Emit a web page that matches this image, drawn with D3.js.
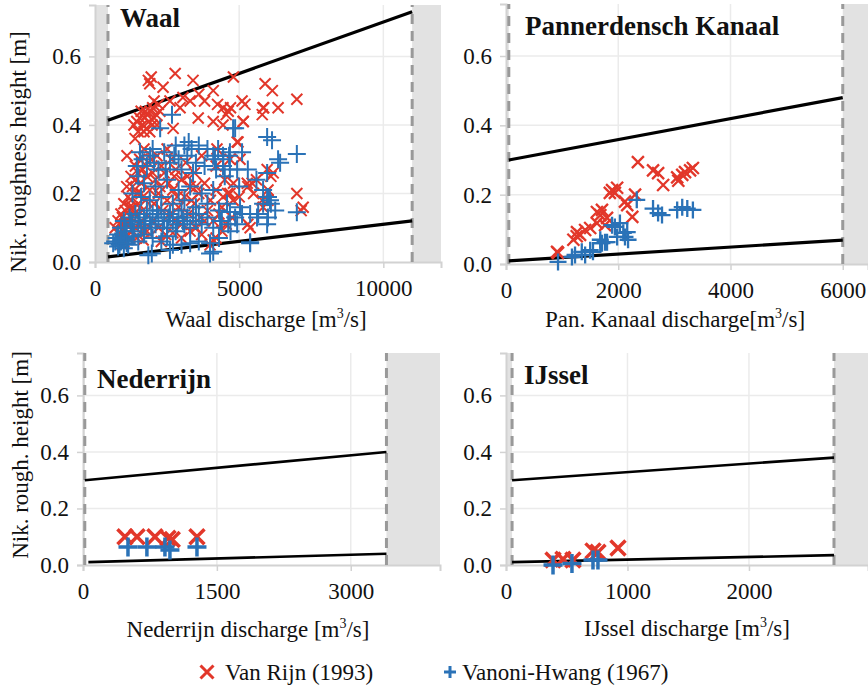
<!DOCTYPE html>
<html>
<head>
<meta charset="utf-8">
<script src="https://cdn.jsdelivr.net/npm/d3@7"></script>
<style>
  body { margin: 0; background: #fff; }
  svg text { font-family: "Liberation Serif", "Times New Roman", serif; fill: #111; }
</style>
</head>
<body>
<script>
// ---- data ----
// Waal: [discharge m3/s, roughness height m]
var waalVanRijn = [
  [1850,0.53],[1950,0.54],[1900,0.52],[2780,0.55],[3400,0.53],[2360,0.51],[4100,0.50],[4800,0.54],
  [5900,0.52],[6150,0.50],[7000,0.475],[6350,0.45],[5850,0.45],[5200,0.46],[4700,0.45],[4550,0.43],
  [4250,0.46],[3600,0.49],[3300,0.47],[3050,0.48],[2950,0.45],[2600,0.47],[3800,0.47],[2200,0.46],[2050,0.47],
  [4440,0.45],[4620,0.44],[5100,0.47],[5830,0.45],[5800,0.43],[5140,0.41],[4440,0.40],[4100,0.41],
  [1650,0.40],[1720,0.42],[1780,0.39],[1800,0.43],[1870,0.41],[1920,0.44],[1980,0.40],[2050,0.42],
  [2120,0.43],[1750,0.44],[1900,0.38],[2000,0.45],[1350,0.40],[1450,0.41],[1550,0.42],[1600,0.44],
  [1700,0.38],[2150,0.40],[2250,0.44],[1500,0.38],
  [3580,0.42],[5140,0.41],[2710,0.39],[1390,0.36],[1110,0.31],[4930,0.35],[5030,0.30],[5970,0.27],
  [6180,0.26],[6100,0.25],[7000,0.20],[7220,0.16],[7150,0.15],[5450,0.23],[5300,0.11],[4100,0.064],
  [4960,0.35],[4680,0.30],[4230,0.33],[5280,0.23],[4680,0.20],[4790,0.18],[4440,0.19],[5830,0.16],[6000,0.18],
  [1100,0.22],[1250,0.25],[1400,0.28],[1550,0.30],[1700,0.33],[1850,0.29],[2000,0.26],[2150,0.31],
  [2300,0.28],[2500,0.33],[2650,0.30],[2800,0.27],[3000,0.24],[3150,0.29],[3300,0.22],[3450,0.26],
  [3600,0.20],[3800,0.23],[4000,0.18],[4200,0.21],[4400,0.16],[4600,0.20],[4800,0.23],[5000,0.19],
  [5300,0.22],[5500,0.20],[5800,0.18],[6000,0.21],
  [1400,0.24],[1500,0.26],[1650,0.27],[1800,0.25],[1950,0.30],[2100,0.24],[2250,0.22],[2400,0.26],
  [2550,0.23],[2750,0.25],[2850,0.19],[3200,0.25],[3350,0.18],[3500,0.22],[1300,0.22],[1600,0.20],
  [5600,0.24],[4200,0.28],[4500,0.24],[3700,0.31],
  [900,0.14],[1000,0.17],[1150,0.19],[1300,0.16],[1450,0.20],[1600,0.23],[1750,0.18],[1900,0.21],
  [2050,0.17],[2200,0.20],[2350,0.15],[2500,0.18],[2700,0.21],[2900,0.16],[3100,0.19],[3250,0.14],
  [3450,0.17],[3650,0.13],[3900,0.15],[4100,0.12],[4300,0.14],[4550,0.11],[4750,0.13],
  [850,0.08],[900,0.11],[950,0.13],[1000,0.06],[1050,0.15],[1100,0.08],[1150,0.12],[1200,0.16],
  [1300,0.09],[1350,0.14],[1450,0.07],[1500,0.17],[1550,0.11],[1650,0.15],[1700,0.09],[1250,0.18],
  [1050,0.12],[950,0.05],[2600,0.14],[2800,0.12],[3000,0.11],[3500,0.10],[3800,0.12],[4400,0.09],
  [700,0.10],[800,0.12],[950,0.09],[1100,0.11],[1250,0.13],[1400,0.10],[1600,0.12],[1800,0.09],
  [2000,0.12],[2200,0.10],[2450,0.08],[2700,0.085],[3000,0.07],[3300,0.09],[3700,0.08],[3990,0.05],
  [4200,0.07],[5380,0.10],[1670,0.064],[1200,0.07],[2300,0.06]
];
var waalVanoni = [
  [2670,0.43],[2260,0.39],[4860,0.39],[4790,0.39],[5970,0.365],[6140,0.355],[3100,0.34],[3350,0.33],[3600,0.34],
  [3900,0.33],[7000,0.315],[4160,0.30],[4450,0.30],[4650,0.31],[1560,0.32],[1910,0.31],[6420,0.29],
  [6350,0.30],[4270,0.33],[4440,0.31],[4680,0.32],[5100,0.32],[4100,0.31],[4440,0.28],[4680,0.27],[4930,0.27],
  [5970,0.26],[6000,0.19],[6100,0.17],[6250,0.15],[7000,0.145],[5660,0.14],[6000,0.13],[4580,0.17],
  [5830,0.21],[5970,0.19],[6070,0.18],[5830,0.17],[5380,0.14],[5620,0.13],[4340,0.12],[4620,0.11],
  [4930,0.11],[5970,0.11],[4680,0.146],[5030,0.16],[5380,0.058],[3990,0.055],[4100,0.03],
  [4860,0.13],[5380,0.055],[3990,0.025],[1970,0.025],[630,0.055],[970,0.064],[2700,0.05],[3000,0.05],
  [2000,0.33],[2400,0.32],[2800,0.34],[3200,0.31],[2900,0.30],[3500,0.29],[1800,0.28],[2200,0.27],
  [2600,0.29],[3000,0.27],[3400,0.26],[3800,0.28],[4200,0.27],[4500,0.25],[1500,0.25],[1700,0.23],
  [2100,0.22],[2500,0.24],[2900,0.21],[3300,0.22],[3700,0.20],[4100,0.21],[5000,0.22],[5300,0.27],
  [5600,0.24],[1300,0.20],[1600,0.19],[1900,0.18],[2300,0.19],[2700,0.17],[3100,0.18],[3500,0.16],
  [3900,0.17],[4300,0.15],[1650,0.30],[2050,0.29],[2450,0.27],[1450,0.28],[3250,0.35],[2750,0.31],
  [800,0.08],[900,0.10],[1000,0.12],[1100,0.09],[1200,0.13],[1300,0.11],[1400,0.14],[1500,0.12],
  [1600,0.10],[1700,0.13],[1800,0.15],[1900,0.12],[2000,0.14],[2100,0.11],[2200,0.13],[2300,0.15],
  [2400,0.12],[2500,0.10],[2600,0.14],[2700,0.12],[2800,0.09],[2900,0.13],[3000,0.15],[3100,0.11],
  [3200,0.13],[3300,0.10],[3400,0.14],[3500,0.12],[3700,0.11],[3900,0.13],[4100,0.10],[4400,0.12],
  [4700,0.09],[5100,0.14],[1050,0.10],[1250,0.12],[1350,0.09],[1550,0.14],[1750,0.11],[1950,0.10],
  [2150,0.15],[2350,0.10],[2550,0.13],[2850,0.11],[3050,0.12],[3600,0.14],
  [700,0.06],[850,0.05],[1000,0.07],[1150,0.05],[1300,0.075],[1500,0.06],[1700,0.08],[2000,0.07],
  [2300,0.06],[2500,0.075],[3300,0.055],[3600,0.06],[4300,0.07],[1850,0.02],[2600,0.035],[1000,0.04],
  [800,0.045],[750,0.07],[900,0.06],[1100,0.055]
];
// Pannerdensch Kanaal
var pkVanRijn = [
  [927,0.032],[910,0.035],[1200,0.07],[1260,0.08],[1265,0.092],[1320,0.084],[1410,0.098],[1500,0.104],
  [1620,0.118],[1680,0.141],[1620,0.15],[1710,0.156],[1800,0.133],[1765,0.112],[1890,0.213],[1940,0.205],
  [1980,0.22],[1850,0.205],[2120,0.18],[2160,0.17],[2250,0.136],[2300,0.20],[2350,0.294],[2620,0.27],
  [2710,0.262],[2800,0.228],[3050,0.25],[3070,0.24],[3190,0.265],[3280,0.27],[3330,0.277],[3140,0.257]
];
var pkVanoni = [
  [927,0.006],[1175,0.02],[1230,0.026],[1350,0.035],[1410,0.026],[1500,0.04],[1550,0.035],[1680,0.07],
  [1710,0.06],[1765,0.063],[1680,0.06],[1800,0.063],[1890,0.112],[1940,0.107],[2030,0.118],[2120,0.078],
  [2160,0.092],[2175,0.07],[2090,0.09],[1980,0.078],[2330,0.185],[2620,0.16],[2710,0.147],[2780,0.141],
  [3050,0.156],[3140,0.164],[3230,0.16],[3330,0.156]
];
// Nederrijn
var nrVanRijn = [[470,0.10],[605,0.10],[806,0.10],[952,0.095],[1000,0.09],[1277,0.10]];
var nrVanoni = [[504,0.064],[716,0.064],[918,0.064],[974,0.053],[1277,0.064]];
// IJssel
var ijVanRijn = [[387,0.018],[469,0.02],[551,0.018],[716,0.05],[757,0.045],[922,0.06]];
var ijVanoni = [[387,0.0],[543,0.005],[716,0.018],[757,0.018]];

// validity range of each branch (dashed lines) and envelope lines [[Q, k], [Q, k]]
var waalRange = [450, 11000];
var waalUpper = [[450,0.414],[11000,0.73]];
var waalLower = [[450,0.015],[11000,0.12]];
var pkRange = [50, 6000];
var pkUpper = [[50,0.30],[6000,0.48]];
var pkLower = [[50,0.009],[6000,0.069]];
var nrRange = [20, 3400];
var nrUpper = [[20,0.30],[3400,0.40]];
var nrLower = [[60,0.01],[3400,0.04]];
var ijRange = [50, 2700];
var ijUpper = [[50,0.30],[2700,0.38]];
var ijLower = [[50,0.01],[2700,0.035]];

var yTicks = [0, 0.2, 0.4, 0.6];
var waalTicks = [0, 5000, 10000];
var pkTicks = [0, 2000, 4000, 6000];
var nrTicks = [0, 1500, 3000];
var ijTicks = [0, 1000, 2000];

var red = "#e2372a", blue = "#2a72b7";

var panels = [
  {title: "Waal", tx: 120, ty: 27, box: [95, 5, 441, 262], xmax: 12000, ticks: waalTicks,
   range: waalRange, upper: waalUpper, lower: waalLower, vr: waalVanRijn, vh: waalVanoni,
   xl: "Waal discharge [m", xlx: 266, xly: 327, yl: "Nik. roughness height [m]", ylx: 18, yly: 152,
   sx: 5.5, sp: 9, sw: 2, lw: 3.2},
  {title: "Pannerdensch Kanaal", tx: 525, ty: 35, box: [506, 4, 868, 264], xmax: 6450, ticks: pkTicks,
   range: pkRange, upper: pkUpper, lower: pkLower, vr: pkVanRijn, vh: pkVanoni,
   xl: "Pan. Kanaal discharge[m", xlx: 675, xly: 327, sx: 6, sp: 8.5, sw: 2.3, lw: 3.2},
  {title: "Nederrijn", tx: 97, ty: 388, box: [83, 353, 440, 565], xmax: 4000, ticks: nrTicks,
   range: nrRange, upper: nrUpper, lower: nrLower, vr: nrVanRijn, vh: nrVanoni,
   xl: "Nederrijn discharge [m", xlx: 248, xly: 637, yl: "Nik. rough. height [m]", ylx: 20, yly: 455,
   sx: 7.5, sp: 9.5, sw: 3.5, lw: 2.6},
  {title: "IJssel", tx: 524, ty: 384, box: [506, 353, 868, 565], xmax: 2980, ticks: ijTicks,
   range: ijRange, upper: ijUpper, lower: ijLower, vr: ijVanRijn, vh: ijVanoni,
   xl: "IJssel discharge [m", xlx: 687, xly: 636, sx: 7.5, sp: 9.5, sw: 3.5, lw: 2.6}
];

var svg = d3.select("body").append("svg")
  .attr("width", 868)
  .attr("height", 685);

function crossPath(s) { return "M" + (-s) + "," + (-s) + "L" + s + "," + s + "M" + (-s) + "," + s + "L" + s + "," + (-s); }
function plusPath(s) { return "M" + (-s) + ",0L" + s + ",0M0," + (-s) + "L0," + s; }

panels.forEach(function(p) {
  var x = d3.scaleLinear().domain([0, p.xmax]).range([p.box[0], p.box[2]]);
  var y = d3.scaleLinear().domain([0, 0.75]).range([p.box[3], p.box[1]]);
  var g = svg.append("g");

  // shaded areas outside the valid range
  g.append("rect").attr("x", x(0)).attr("y", y(0.75))
    .attr("width", x(p.range[0]) - x(0)).attr("height", y(0) - y(0.75)).attr("fill", "#e2e2e2");
  g.append("rect").attr("x", x(p.range[1])).attr("y", y(0.75))
    .attr("width", x(p.xmax) - x(p.range[1])).attr("height", y(0) - y(0.75)).attr("fill", "#e2e2e2");

  // grid
  g.selectAll(".gy").data(yTicks.slice(1)).enter().append("line")
    .attr("x1", x(p.range[0])).attr("x2", x(p.range[1]))
    .attr("y1", d => y(d)).attr("y2", d => y(d))
    .attr("stroke", "#ebebeb").attr("stroke-width", 1.5);
  g.selectAll(".gx").data(p.ticks.slice(1).filter(d => d < p.range[1])).enter().append("line")
    .attr("x1", d => x(d)).attr("x2", d => x(d))
    .attr("y1", y(0)).attr("y2", y(0.75))
    .attr("stroke", "#ebebeb").attr("stroke-width", 1.5);

  // axes
  var xAxis = g.append("g").attr("transform", "translate(0," + y(0) + ")")
    .call(d3.axisBottom(x).tickValues(p.ticks).tickFormat(d3.format("d")).tickSize(6).tickPadding(12));
  var yAxis = g.append("g").attr("transform", "translate(" + x(0) + ",0)")
    .call(d3.axisLeft(y).tickValues(yTicks).tickFormat(d3.format(".1f")).tickSize(6).tickPadding(8));
  [xAxis, yAxis].forEach(function(a) {
    a.select(".domain").attr("stroke", "#d2d2d2").attr("stroke-width", 2);
    a.selectAll(".tick line").attr("stroke", "#d2d2d2").attr("stroke-width", 1.5);
    a.selectAll("text").attr("font-size", 23).attr("font-family", "Liberation Serif").attr("fill", "#111");
  });

  // dashed range limits
  g.selectAll(".lim").data(p.range).enter().append("line")
    .attr("x1", d => x(d)).attr("x2", d => x(d))
    .attr("y1", y(0)).attr("y2", y(0.75))
    .attr("stroke", "#999").attr("stroke-width", 3).attr("stroke-dasharray", "10,7");

  // envelope lines
  var line = d3.line().x(d => x(d[0])).y(d => y(d[1]));
  [p.upper, p.lower].forEach(function(l) {
    g.append("path").attr("d", line(l)).attr("fill", "none")
      .attr("stroke", "#000").attr("stroke-width", p.lw);
  });

  // points
  g.selectAll(".vr").data(p.vr).enter().append("path")
    .attr("transform", d => "translate(" + x(d[0]) + "," + y(d[1]) + ")")
    .attr("d", crossPath(p.sx)).attr("stroke", red).attr("stroke-width", p.sw).attr("fill", "none");
  g.selectAll(".vh").data(p.vh).enter().append("path")
    .attr("transform", d => "translate(" + x(d[0]) + "," + y(d[1]) + ")")
    .attr("d", plusPath(p.sp)).attr("stroke", blue).attr("stroke-width", p.sw).attr("fill", "none");

  // title
  svg.append("text").attr("x", p.tx).attr("y", p.ty)
    .attr("font-size", 27).attr("font-weight", "bold").text(p.title);

  // axis labels
  var xl = svg.append("text").attr("x", p.xlx).attr("y", p.xly)
    .attr("text-anchor", "middle").attr("font-size", 23);
  xl.append("tspan").text(p.xl);
  xl.append("tspan").attr("font-size", 14).attr("dy", -9).text("3");
  xl.append("tspan").attr("dy", 9).text("/s]");
  if (p.yl) {
    svg.append("text").attr("transform", "translate(" + p.ylx + "," + p.yly + ") rotate(-90)")
      .attr("text-anchor", "middle").attr("dominant-baseline", "central")
      .attr("font-size", 23).text(p.yl);
  }
});

// legend
var legend = svg.append("g");
legend.append("path").attr("transform", "translate(207,672)").attr("d", crossPath(6.5))
  .attr("stroke", red).attr("stroke-width", 3).attr("fill", "none");
legend.append("text").attr("x", 225).attr("y", 680).attr("font-size", 23).text("Van Rijn (1993)");
legend.append("path").attr("transform", "translate(450,672)").attr("d", plusPath(6))
  .attr("stroke", blue).attr("stroke-width", 3).attr("fill", "none");
legend.append("text").attr("x", 462).attr("y", 680).attr("font-size", 23).text("Vanoni-Hwang (1967)");
</script>
</body>
</html>
